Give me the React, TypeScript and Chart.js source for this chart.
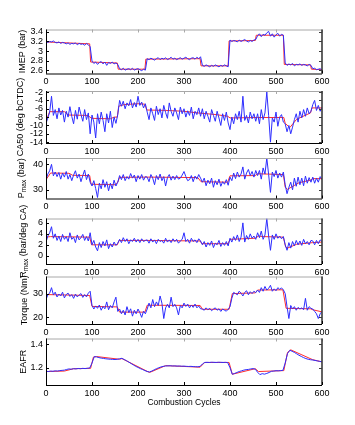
import React, { useEffect, useRef } from "react";
import { Chart, registerables } from "chart.js";

Chart.register(...registerables);

const FONT = "'Liberation Sans', Arial, Helvetica, sans-serif";

// ---------- data ----------
const X_TICKS = [0, 100, 200, 300, 400, 500, 600];
// sampled combustion cycles (every 4th cycle for the noisy signals, every 5th for EAFR)
const CYCLES_4 = Array.from({ length: 151 }, (_, i) => i * 4);
const CYCLES_5 = Array.from({ length: 121 }, (_, i) => i * 5);

const IMEP = [
  3.19, 3.18, 3.20, 3.19, 3.21, 3.18, 3.17, 3.19, 3.16, 3.18, 3.17, 3.15, 3.17, 3.14, 3.16, 3.15, 3.17, 3.13, 3.16, 3.14, 3.15, 3.12, 3.16, 3.13, 3.09,
  2.79, 2.74, 2.77, 2.72, 2.76, 2.78, 2.73, 2.77, 2.70, 2.76, 2.74, 2.77, 2.73, 2.75, 2.72,
  2.63, 2.61, 2.64, 2.60, 2.62, 2.63, 2.61, 2.64, 2.60, 2.62, 2.63, 2.61, 2.59, 2.62, 2.60,
  2.84, 2.82, 2.85, 2.83, 2.81, 2.84, 2.86, 2.82, 2.85, 2.83, 2.86, 2.82, 2.84, 2.87, 2.83, 2.85, 2.82, 2.84, 2.86, 2.83, 2.85, 2.87, 2.84, 2.82, 2.85, 2.86, 2.83, 2.87, 2.84, 2.88,
  2.70, 2.68, 2.71, 2.69, 2.67, 2.70, 2.68, 2.71, 2.69, 2.67, 2.70, 2.68, 2.71, 2.69, 2.67,
  3.23, 3.20, 3.22, 3.21, 3.19, 3.23, 3.20, 3.22, 3.24, 3.21, 3.19, 3.22, 3.20, 3.23, 3.24,
  3.32, 3.36, 3.30, 3.35, 3.33, 3.38, 3.41, 3.31, 3.36, 3.29, 3.34, 3.37, 3.31, 3.35, 3.33,
  2.75, 2.70, 2.73, 2.71, 2.74, 2.69, 2.72, 2.71, 2.73, 2.70, 2.72, 2.71, 2.69, 2.72, 2.70,
  2.63, 2.64, 2.61, 2.62, 2.63, 2.60,
];
const IMEP_REF_X = [0, 95, 97, 155, 157, 215, 217, 335, 337, 396, 398, 455, 457, 516, 518, 575, 577, 600];
const IMEP_REF_Y = [3.19, 3.15, 2.77, 2.75, 2.62, 2.62, 2.83, 2.84, 2.69, 2.69, 3.21, 3.22, 3.33, 3.33, 2.72, 2.71, 2.62, 2.61];
const IMEP_TICKS = [2.6, 2.8, 3, 3.2, 3.4];

const CA50 = [
  -9.5, -8.2, -6.8, -3.0, -7.6, -6.2, -8.4, -5.8, -7.5, -6.4, -9.2, -6.6, -8.0, -5.5, -7.8, -9.6, -6.4, -8.5, -5.6, -7.4, -9.0, -6.2, -8.6, -7.0, -12.0,
  -7.5, -9.2, -13.0, -7.2, -9.6, -6.8, -8.8, -11.5, -7.2, -9.4, -6.6, -10.5, -8.0, -9.5, -7.4,
  -4.0, -5.4, -4.2, -6.0, -4.6, -5.3, -3.8, -5.8, -4.5, -5.6, -3.0, -5.2, -4.4, -5.8, -4.8,
  -6.8, -8.6, -5.8, -7.2, -8.8, -5.4, -7.4, -6.0, -8.2, -5.2, -6.9, -8.3, -4.6, -6.6, -7.8, -5.8, -7.0, -8.6, -5.6, -7.2, -6.0, -8.0, -6.5, -7.6, -5.6, -8.4, -6.6, -7.4, -5.8, -7.8,
  -6.0, -8.4, -6.6, -7.8, -9.2, -6.2, -7.6, -9.0, -6.6, -8.2, -10.0, -7.2, -8.8, -6.8, -9.4,
  -11.0, -8.0, -9.6, -7.2, -8.6, -6.6, -9.2, -3.0, -8.8, -7.6, -9.4, -6.8, -8.4, -7.2, -9.0,
  -7.2, -9.6, -6.2, -8.6, -7.0, -2.0, -7.6, -14.0, -8.2, -9.2, -6.8, -10.2, -8.0, -7.4, -9.2,
  -9.6, -11.5, -10.0, -12.0, -10.4, -8.6, -7.2, -9.2, -6.6, -8.2, -6.2, -7.8, -5.8, -7.2, -6.6,
  -5.0, -4.0, -6.4, -5.2, -6.6, -5.6,
];
const CA50_REF_X = [0, 8, 40, 48, 90, 100, 140, 148, 155, 158, 170, 200, 215, 219, 260, 300, 330, 370, 395, 400, 460, 517, 520, 530, 545, 575, 578, 600];
const CA50_REF_Y = [-9, -6.7, -6.7, -7.5, -7.6, -8.3, -8.4, -8.0, -8.0, -5.4, -5.0, -4.8, -4.9, -6.3, -6.4, -6.6, -7.0, -7.4, -7.8, -8.2, -8.1, -8.1, -9.5, -10.5, -8.5, -7.0, -5.8, -5.8];
const CA50_TICKS = [-14, -12, -10, -8, -6, -4, -2];

const PMAX = [
  34.0, 36.2, 37.5, 40.0, 35.5, 37.0, 35.2, 36.8, 34.2, 36.6, 35.0, 37.2, 34.2, 36.0, 33.6, 35.8, 37.5, 34.6, 36.2, 33.2, 35.6, 37.8, 34.0, 36.2, 33.0,
  31.5, 33.6, 30.5, 27.0, 32.6, 30.4, 34.0, 31.0, 33.2, 29.6, 32.6, 30.4, 33.8, 31.5, 33.0,
  35.6, 34.0, 36.0, 33.6, 35.2, 34.2, 36.4, 34.6, 35.8, 33.2, 35.6, 34.2, 36.0, 33.8, 35.2,
  35.0, 33.2, 36.0, 34.6, 32.0, 35.6, 34.0, 36.2, 33.6, 35.2, 31.5, 34.8, 36.0, 33.8, 35.4, 34.0, 35.6, 34.2, 34.6, 35.8, 37.2, 35.2, 33.6, 34.0, 35.6, 33.2, 35.4, 34.2, 36.0, 34.6,
  33.0, 34.6, 31.6, 33.8, 32.4, 34.6, 31.0, 33.6, 32.0, 34.2, 31.4, 33.2, 32.2, 34.0, 31.8,
  35.0, 33.6, 36.6, 34.4, 37.0, 35.0, 36.2, 39.0, 34.2, 36.6, 38.0, 35.6, 37.2, 35.0, 37.6,
  35.6, 37.6, 34.2, 38.6, 36.2, 42.5, 36.0, 29.0, 37.0, 35.2, 37.6, 34.6, 36.6, 35.0, 37.0,
  32.0, 28.5, 31.0, 33.0, 30.0, 34.6, 31.4, 35.0, 32.0, 34.6, 31.6, 35.4, 32.6, 34.8, 33.0,
  35.0, 32.6, 34.6, 33.0, 35.2, 34.0,
];
const PMAX_REF_X = [0, 10, 50, 58, 95, 98, 150, 156, 160, 220, 330, 337, 395, 400, 455, 460, 516, 520, 525, 550, 575, 580, 600];
const PMAX_REF_Y = [34, 36.6, 36.5, 35.7, 35.6, 32.2, 32.0, 33, 34.9, 35.0, 34.8, 33.2, 33.0, 35.5, 35.6, 36.3, 36.0, 31, 30.2, 32.8, 33.8, 34.4, 34.4];
const PMAX_TICKS = [30, 40];

const RMAX = [
  2.5, 3.6, 4.2, 5.3, 3.2, 4.0, 2.8, 3.6, 2.6, 3.9, 3.0, 3.5, 2.6, 4.2, 3.0, 3.4, 2.4, 3.8, 2.9, 3.3, 3.9, 2.8, 3.5, 2.7, 4.2,
  2.0, 2.8, 1.6, 0.9, 2.4, 1.5, 2.6, 1.8, 2.9, 1.3, 2.2, 1.6, 2.5, 1.9, 2.3,
  3.0, 2.4, 3.3, 2.6, 3.1, 2.2, 2.9, 2.6, 3.2, 2.5, 3.0, 2.4, 3.1, 2.6, 2.8,
  2.9, 2.3, 3.1, 2.5, 2.9, 2.2, 3.0, 2.6, 2.8, 2.3, 3.2, 2.5, 2.9, 2.4, 3.1, 2.6, 3.0, 2.3, 2.7, 3.0, 4.2, 2.6, 3.0, 2.3, 3.2, 2.6, 2.9, 2.4, 3.1, 2.7,
  2.0, 2.6, 1.6, 2.4, 1.9, 2.7, 1.5, 2.3, 2.0, 2.8, 1.7, 2.4, 1.9, 2.6, 1.8,
  3.2, 2.5, 3.5, 2.8, 3.8, 2.6, 3.4, 6.0, 2.5, 3.7, 3.0, 4.0, 3.2, 3.6, 3.0,
  4.2, 3.3, 4.5, 3.0, 3.8, 6.8, 3.6, 1.0, 3.8, 3.0, 4.0, 3.2, 3.6, 3.1, 3.5,
  2.0, 1.0, 2.4, 1.4, 2.6, 1.8, 2.8, 2.0, 2.7, 1.9, 3.0, 2.2, 2.6, 2.0, 2.8,
  2.7, 2.0, 2.8, 2.2, 2.9, 2.6,
];
const RMAX_REF_X = [0, 10, 95, 99, 155, 159, 220, 335, 339, 396, 400, 455, 462, 472, 516, 521, 525, 545, 580, 600];
const RMAX_REF_Y = [3.4, 3.5, 3.4, 2.0, 2.0, 2.8, 2.8, 2.7, 2.2, 2.2, 3.0, 3.2, 3.6, 3.5, 3.4, 1.6, 1.4, 2.1, 2.4, 2.5];
const RMAX_TICKS = [0, 2, 4, 6];

const TORQUE = [
  27.5, 29.5, 30.2, 32.5, 29.5, 30.6, 28.6, 29.8, 29.0, 30.6, 28.2, 29.6, 30.2, 28.8, 29.6, 28.0, 29.8, 28.6, 29.4, 30.0, 28.4, 29.6, 28.6, 30.2, 31.0,
  25.0, 23.5, 24.8, 23.8, 25.2, 23.0, 24.6, 23.6, 26.5, 23.2, 25.0, 24.0, 26.5, 28.5, 22.5,
  23.5, 21.5, 23.0, 21.0, 24.5, 22.0, 23.6, 20.5, 23.0, 21.5, 23.5, 22.0, 20.0, 22.6, 21.5,
  23.5, 26.0, 24.0, 27.5, 24.5, 26.5, 25.0, 29.0, 26.0, 19.5, 24.0, 25.5, 24.0, 28.5, 24.5, 25.5, 24.0, 21.0, 25.0, 24.0, 26.0, 24.6, 25.6, 24.0, 25.2, 24.2, 25.6, 24.0, 24.8, 23.6,
  23.5, 23.0, 24.0, 23.2, 23.8, 22.8, 23.5, 24.0, 23.0, 23.6, 22.5, 23.5, 23.0, 22.6, 23.4,
  24.5, 28.0, 30.5, 30.0, 29.5, 31.0, 30.2, 29.0, 30.5, 31.2, 29.5, 30.8, 30.0, 31.0, 30.4,
  31.5, 30.5, 32.5, 31.0, 33.0, 31.5, 32.2, 33.5, 31.0, 32.0, 31.2, 32.5, 31.8, 32.4, 31.6,
  30.0, 24.5, 19.5, 25.0, 23.5, 24.5, 23.0, 24.2, 23.5, 24.0, 23.2, 28.0, 23.0, 24.5, 23.8,
  23.5, 22.5, 21.5, 19.5, 21.5, 22.5,
];
const TORQUE_REF_X = [0, 95, 100, 155, 160, 215, 220, 335, 340, 398, 405, 455, 460, 515, 522, 575, 580, 600];
const TORQUE_REF_Y = [29.6, 29.2, 24.6, 24.4, 22.2, 22.2, 25.1, 25.0, 23.4, 23.4, 30.0, 30.3, 31.5, 31.6, 23.8, 23.6, 23.2, 22.3];
const TORQUE_TICKS = [20, 30];

const EAFR = [
  1.170, 1.168, 1.172, 1.170, 1.174, 1.172, 1.176, 1.178, 1.180, 1.186, 1.190, 1.188, 1.192, 1.190, 1.194, 1.192, 1.195, 1.193, 1.196, 1.198,
  1.240, 1.295, 1.292, 1.286, 1.282, 1.279, 1.276, 1.274, 1.272, 1.271, 1.270, 1.272,
  1.276, 1.280, 1.270, 1.260, 1.248, 1.236, 1.224, 1.212, 1.203, 1.193, 1.185, 1.176,
  1.168, 1.165, 1.172, 1.182, 1.192, 1.200, 1.207, 1.212, 1.215, 1.216, 1.217, 1.215, 1.216, 1.214, 1.215, 1.213, 1.214, 1.212, 1.211, 1.212, 1.210, 1.209, 1.208, 1.212,
  1.232, 1.245, 1.246, 1.245, 1.247, 1.246, 1.245, 1.247, 1.246, 1.245, 1.246, 1.244,
  1.200, 1.145, 1.152, 1.160, 1.168, 1.174, 1.180, 1.184, 1.186, 1.190, 1.193, 1.188,
  1.162, 1.142, 1.150, 1.146, 1.152, 1.160, 1.170, 1.172, 1.175, 1.174, 1.176, 1.178,
  1.240, 1.320, 1.348, 1.340, 1.330, 1.318, 1.306, 1.296, 1.286, 1.278, 1.272, 1.268,
  1.266, 1.262, 1.258, 1.254, 1.250,
];
const EAFR_REF_X = [0, 40, 60, 97, 103, 110, 160, 165, 225, 260, 335, 345, 398, 405, 455, 462, 517, 525, 532, 580, 600];
const EAFR_REF_Y = [1.168, 1.172, 1.192, 1.195, 1.29, 1.295, 1.272, 1.278, 1.16, 1.218, 1.205, 1.245, 1.245, 1.145, 1.192, 1.168, 1.176, 1.33, 1.352, 1.268, 1.25];
const EAFR_TICKS = [1.2, 1.4];

// ---------- layout ----------
type Part = [string, boolean];
interface PanelDef {
  cycles: number[];
  blue: number[];
  refX: number[];
  refY: number[];
  ticks: number[];
  min: number;
  max: number;
  top: number;
  bottom: number;
  title: Part[];
  titleX: number;
  xTitle?: string;
}

const PANELS: PanelDef[] = [
  { cycles: CYCLES_4, blue: IMEP, refX: IMEP_REF_X, refY: IMEP_REF_Y, ticks: IMEP_TICKS, min: 2.53, max: 3.45, top: 29.5, bottom: 73.5, title: [["IMEP (bar)", false]], titleX: 23 },
  { cycles: CYCLES_4, blue: CA50, refX: CA50_REF_X, refY: CA50_REF_Y, ticks: CA50_TICKS, min: -14.2, max: -1.75, top: 91, bottom: 143, title: [["CA50 (deg bCTDC)", false]], titleX: 20.5 },
  { cycles: CYCLES_4, blue: PMAX, refX: PMAX_REF_X, refY: PMAX_REF_Y, ticks: PMAX_TICKS, min: 26.6, max: 42.5, top: 158, bottom: 198.5, title: [["P", false], ["max", true], [" (bar)", false]], titleX: 22 },
  { cycles: CYCLES_4, blue: RMAX, refX: RMAX_REF_X, refY: RMAX_REF_Y, ticks: RMAX_TICKS, min: -1.5, max: 6.8, top: 218.5, bottom: 264, title: [["R", false], ["max", true], [" (bar/deg CA)", false]], titleX: 24 },
  { cycles: CYCLES_4, blue: TORQUE, refX: TORQUE_REF_X, refY: TORQUE_REF_Y, ticks: TORQUE_TICKS, min: 17.2, max: 37.2, top: 276.5, bottom: 324, title: [["Torque (Nm)", false]], titleX: 24.5 },
  { cycles: CYCLES_5, blue: EAFR, refX: EAFR_REF_X, refY: EAFR_REF_Y, ticks: EAFR_TICKS, min: 1.054, max: 1.448, top: 338.5, bottom: 385, title: [["EAFR", false]], titleX: 23.5, xTitle: "Combustion Cycles" },
];

const PLOT_LEFT = 46;
const PLOT_RIGHT = 322;
const W = 355;
const H = 425;
const X_AXIS_H = 16;
const MARGIN = 40; // transparent room above/below each plot so rotated titles are not clipped

const framePlugin = {
  id: "frame",
  afterDraw(chart: any, _args: any, opts: any) {
    const { ctx, chartArea } = chart;
    const { left, right, top, bottom } = chartArea;
    const xs = chart.scales.x;
    const ys = chart.scales.y;
    const TL = 3;
    ctx.save();
    ctx.lineWidth = 1;
    // top border + ticks (light)
    ctx.strokeStyle = "#a8a8a8";
    ctx.beginPath();
    ctx.moveTo(left, top + 0.5);
    ctx.lineTo(right, top + 0.5);
    for (const v of X_TICKS) {
      const px = Math.round(xs.getPixelForValue(v)) + 0.5;
      ctx.moveTo(px, top);
      ctx.lineTo(px, top + TL);
    }
    ctx.stroke();
    // right border + ticks (dark)
    ctx.strokeStyle = "#3a3a3a";
    ctx.lineWidth = 1.6;
    ctx.beginPath();
    ctx.moveTo(right, top);
    ctx.lineTo(right, bottom);
    ctx.stroke();
    ctx.lineWidth = 1;
    ctx.beginPath();
    for (const v of opts.ticks) {
      const py = Math.round(ys.getPixelForValue(v)) + 0.5;
      ctx.moveTo(right, py);
      ctx.lineTo(right - TL, py);
    }
    ctx.stroke();
    // left + bottom borders and ticks (black)
    ctx.strokeStyle = "#000";
    ctx.beginPath();
    ctx.moveTo(left + 0.5, top);
    ctx.lineTo(left + 0.5, bottom);
    ctx.moveTo(left, bottom + 0.5);
    ctx.lineTo(right, bottom + 0.5);
    for (const v of X_TICKS) {
      const px = Math.round(xs.getPixelForValue(v)) + 0.5;
      ctx.moveTo(px, bottom);
      ctx.lineTo(px, bottom - TL);
    }
    for (const v of opts.ticks) {
      const py = Math.round(ys.getPixelForValue(v)) + 0.5;
      ctx.moveTo(left, py);
      ctx.lineTo(left + TL, py);
    }
    ctx.stroke();

    // y title (rotated, with subscripts)
    const parts: Part[] = opts.title;
    ctx.fillStyle = "#000";
    ctx.textBaseline = "middle";
    ctx.textAlign = "left";
    const big = `9px ${FONT}`;
    const small = `6.5px ${FONT}`;
    let total = 0;
    const widths = parts.map(([t, sub]) => {
      ctx.font = sub ? small : big;
      const w = ctx.measureText(t).width;
      total += w;
      return w;
    });
    ctx.save();
    ctx.translate(opts.titleX, (top + bottom) / 2);
    ctx.rotate(-Math.PI / 2);
    let cx = -total / 2;
    parts.forEach(([t, sub], i) => {
      ctx.font = sub ? small : big;
      ctx.fillText(t, cx, sub ? 2.5 : 0);
      cx += widths[i];
    });
    ctx.restore();

    if (opts.xTitle) {
      ctx.font = `8.5px ${FONT}`;
      ctx.textAlign = "center";
      ctx.textBaseline = "middle";
      ctx.fillText(opts.xTitle, (left + right) / 2, bottom + 18);
    }
    ctx.restore();
  },
};

function Panel({ p }: { p: PanelDef }) {
  const ref = useRef<HTMLCanvasElement>(null);
  const canvasTop = Math.floor(p.top) - MARGIN;
  const padTop = p.top - canvasTop;
  const h = Math.ceil(p.bottom - canvasTop + X_AXIS_H + MARGIN);
  const padBottom = h - (p.bottom - canvasTop) - X_AXIS_H;

  useEffect(() => {
    const blueData = p.cycles.map((x, i) => ({ x, y: p.blue[i] }));
    const redData = p.refX.map((x, i) => ({ x, y: p.refY[i] }));
    const chart = new Chart(ref.current as HTMLCanvasElement, {
      type: "line",
      data: {
        datasets: [
          { data: blueData, borderColor: "rgb(45,45,255)", borderWidth: 1, pointRadius: 0, tension: 0, order: 0 },
          { data: redData, borderColor: "rgb(255,45,45)", borderWidth: 1, pointRadius: 0, tension: 0, order: 1 },
        ],
      },
      options: {
        animation: false,
        responsive: false,
        maintainAspectRatio: false,
        devicePixelRatio: 1,
        events: [],
        layout: { autoPadding: false, padding: { left: 0, right: W - PLOT_RIGHT, top: padTop, bottom: padBottom } },
        plugins: {
          legend: { display: false },
          tooltip: { enabled: false },
          frame: { ticks: p.ticks, title: p.title, titleX: p.titleX, xTitle: p.xTitle },
        } as any,
        scales: {
          x: {
            type: "linear",
            min: 0,
            max: 600,
            grid: { display: false, drawTicks: false },
            border: { display: false },
            afterBuildTicks: (a: any) => {
              a.ticks = X_TICKS.map((v) => ({ value: v }));
            },
            afterFit: (s: any) => {
              s.height = X_AXIS_H;
            },
            ticks: {
              padding: 3,
              color: "#000",
              font: { size: 9, family: FONT },
              maxRotation: 0,
              autoSkip: false,
              callback: (v: any) => String(v),
            },
          },
          y: {
            type: "linear",
            min: p.min,
            max: p.max,
            grid: { display: false, drawTicks: false },
            border: { display: false },
            afterBuildTicks: (a: any) => {
              a.ticks = p.ticks.map((v) => ({ value: v }));
            },
            afterFit: (s: any) => {
              s.width = PLOT_LEFT;
            },
            ticks: {
              padding: 3,
              color: "#000",
              font: { size: 9, family: FONT },
              autoSkip: false,
              callback: (v: any) => String(v),
            },
          },
        },
      } as any,
      plugins: [framePlugin as any],
    });
    return () => chart.destroy();
  }, []);

  return (
    <canvas
      ref={ref}
      width={W}
      height={h}
      style={{ position: "absolute", left: 0, top: canvasTop, width: W, height: h }}
    />
  );
}

export default function App() {
  return (
    <div style={{ position: "absolute", left: 0, top: 0, width: W, height: H, overflow: "hidden", background: "#fff" }}>
      {PANELS.map((p, i) => (
        <Panel key={i} p={p} />
      ))}
    </div>
  );
}
